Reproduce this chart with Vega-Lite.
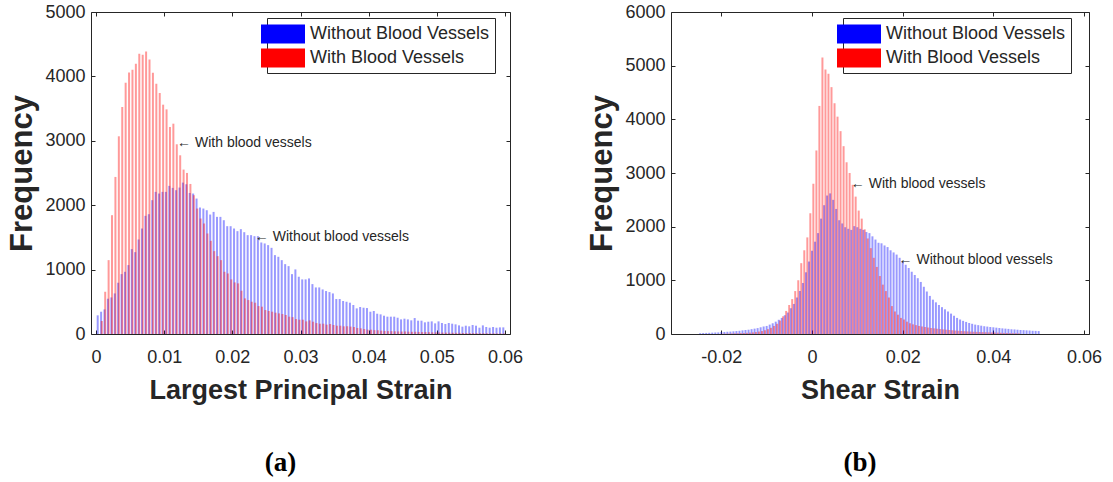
{
"$schema": "https://vega.github.io/schema/vega-lite/v6.json",
"background": "white",
"padding": {"left": 6, "top": 2, "right": 0, "bottom": 0},
"config": {
  "view": {"stroke": "#262626", "strokeWidth": 1},
  "font": "Liberation Sans",
  "axis": {"grid": false, "domain": false, "tickColor": "#262626", "tickSize": -4, "labelColor": "#262626", "labelFontSize": 18, "labelFont": "Liberation Sans", "titleFont": "Liberation Sans", "titleFontWeight": "bold", "titleFontSize": 27, "titleColor": "#262626"},
  "legend": {"labelLimit": 400}
},
"resolve": {"scale": {"color": "independent"}, "legend": {"color": "independent"}},
"spacing": 62,
"datasets": {
"a": [
{"series":"without","strain":0.00025,"count":290},{"series":"without","strain":0.00075,"count":346},{"series":"without","strain":0.00125,"count":382},{"series":"without","strain":0.00175,"count":548},{"series":"without","strain":0.00225,"count":568},{"series":"without","strain":0.00275,"count":630},{"series":"without","strain":0.00325,"count":796},{"series":"without","strain":0.00375,"count":930},{"series":"without","strain":0.00425,"count":966},{"series":"without","strain":0.00475,"count":1070},
{"series":"without","strain":0.00525,"count":1318},{"series":"without","strain":0.00575,"count":1271},{"series":"without","strain":0.00625,"count":1468},{"series":"without","strain":0.00675,"count":1638},{"series":"without","strain":0.00725,"count":1835},{"series":"without","strain":0.00775,"count":1860},{"series":"without","strain":0.00825,"count":2078},{"series":"without","strain":0.00875,"count":2207},{"series":"without","strain":0.00925,"count":2181},{"series":"without","strain":0.00975,"count":2207},
{"series":"without","strain":0.01025,"count":2207},{"series":"without","strain":0.01075,"count":2300},{"series":"without","strain":0.01125,"count":2269},{"series":"without","strain":0.01175,"count":2233},{"series":"without","strain":0.01225,"count":2274},{"series":"without","strain":0.01275,"count":2351},{"series":"without","strain":0.01325,"count":2325},{"series":"without","strain":0.01375,"count":2190},{"series":"without","strain":0.01425,"count":2181},{"series":"without","strain":0.01475,"count":2103},
{"series":"without","strain":0.01525,"count":1964},{"series":"without","strain":0.01575,"count":1948},{"series":"without","strain":0.01625,"count":1922},{"series":"without","strain":0.01675,"count":1855},{"series":"without","strain":0.01725,"count":1896},{"series":"without","strain":0.01775,"count":1819},{"series":"without","strain":0.01825,"count":1819},{"series":"without","strain":0.01875,"count":1767},{"series":"without","strain":0.01925,"count":1674},{"series":"without","strain":0.01975,"count":1674},
{"series":"without","strain":0.02025,"count":1638},{"series":"without","strain":0.02075,"count":1597},{"series":"without","strain":0.02125,"count":1628},{"series":"without","strain":0.02175,"count":1581},{"series":"without","strain":0.02225,"count":1535},{"series":"without","strain":0.02275,"count":1535},{"series":"without","strain":0.02325,"count":1519},{"series":"without","strain":0.02375,"count":1519},{"series":"without","strain":0.02425,"count":1421},{"series":"without","strain":0.02475,"count":1406},
{"series":"without","strain":0.02525,"count":1380},{"series":"without","strain":0.02575,"count":1338},{"series":"without","strain":0.02625,"count":1225},{"series":"without","strain":0.02675,"count":1199},{"series":"without","strain":0.02725,"count":1147},{"series":"without","strain":0.02775,"count":1085},{"series":"without","strain":0.02825,"count":1054},{"series":"without","strain":0.02875,"count":930},{"series":"without","strain":0.02925,"count":1003},{"series":"without","strain":0.02975,"count":889},
{"series":"without","strain":0.03025,"count":848},{"series":"without","strain":0.03075,"count":848},{"series":"without","strain":0.03125,"count":863},{"series":"without","strain":0.03175,"count":775},{"series":"without","strain":0.03225,"count":723},{"series":"without","strain":0.03275,"count":723},{"series":"without","strain":0.03325,"count":692},{"series":"without","strain":0.03375,"count":667},{"series":"without","strain":0.03425,"count":651},{"series":"without","strain":0.03475,"count":630},
{"series":"without","strain":0.03525,"count":543},{"series":"without","strain":0.03575,"count":543},{"series":"without","strain":0.03625,"count":512},{"series":"without","strain":0.03675,"count":502},{"series":"without","strain":0.03725,"count":486},{"series":"without","strain":0.03775,"count":450},{"series":"without","strain":0.03825,"count":398},{"series":"without","strain":0.03875,"count":419},{"series":"without","strain":0.03925,"count":408},{"series":"without","strain":0.03975,"count":403},
{"series":"without","strain":0.04025,"count":346},{"series":"without","strain":0.04075,"count":357},{"series":"without","strain":0.04125,"count":315},{"series":"without","strain":0.04175,"count":305},{"series":"without","strain":0.04225,"count":284},{"series":"without","strain":0.04275,"count":269},{"series":"without","strain":0.04325,"count":269},{"series":"without","strain":0.04375,"count":269},{"series":"without","strain":0.04425,"count":253},{"series":"without","strain":0.04475,"count":227},
{"series":"without","strain":0.04525,"count":238},{"series":"without","strain":0.04575,"count":227},{"series":"without","strain":0.04625,"count":212},{"series":"without","strain":0.04675,"count":248},{"series":"without","strain":0.04725,"count":207},{"series":"without","strain":0.04775,"count":207},{"series":"without","strain":0.04825,"count":181},{"series":"without","strain":0.04875,"count":191},{"series":"without","strain":0.04925,"count":196},{"series":"without","strain":0.04975,"count":165},
{"series":"without","strain":0.05025,"count":196},{"series":"without","strain":0.05075,"count":171},{"series":"without","strain":0.05125,"count":155},{"series":"without","strain":0.05175,"count":171},{"series":"without","strain":0.05225,"count":160},{"series":"without","strain":0.05275,"count":150},{"series":"without","strain":0.05325,"count":134},{"series":"without","strain":0.05375,"count":114},{"series":"without","strain":0.05425,"count":129},{"series":"without","strain":0.05475,"count":119},
{"series":"without","strain":0.05525,"count":140},{"series":"without","strain":0.05575,"count":129},{"series":"without","strain":0.05625,"count":98},{"series":"without","strain":0.05675,"count":134},{"series":"without","strain":0.05725,"count":109},{"series":"without","strain":0.05775,"count":98},{"series":"without","strain":0.05825,"count":109},{"series":"without","strain":0.05875,"count":98},{"series":"without","strain":0.05925,"count":103},{"series":"without","strain":0.05975,"count":103},
{"series":"with","strain":0.00085,"count":202},{"series":"with","strain":0.00135,"count":656},{"series":"with","strain":0.00185,"count":1147},{"series":"with","strain":0.00235,"count":1845},{"series":"with","strain":0.00285,"count":2439},{"series":"with","strain":0.00335,"count":3070},{"series":"with","strain":0.00385,"count":3525},{"series":"with","strain":0.00435,"count":3902},{"series":"with","strain":0.00485,"count":4062},{"series":"with","strain":0.00535,"count":4103},
{"series":"with","strain":0.00585,"count":4196},{"series":"with","strain":0.00635,"count":4351},{"series":"with","strain":0.00685,"count":4336},{"series":"with","strain":0.00735,"count":4388},{"series":"with","strain":0.00785,"count":4264},{"series":"with","strain":0.00835,"count":4057},{"series":"with","strain":0.00885,"count":3886},{"series":"with","strain":0.00935,"count":3742},{"series":"with","strain":0.00985,"count":3561},{"series":"with","strain":0.01035,"count":3488},
{"series":"with","strain":0.01085,"count":3214},{"series":"with","strain":0.01135,"count":3266},{"series":"with","strain":0.01185,"count":2946},{"series":"with","strain":0.01235,"count":2775},{"series":"with","strain":0.01285,"count":2553},{"series":"with","strain":0.01335,"count":2501},{"series":"with","strain":0.01385,"count":2330},{"series":"with","strain":0.01435,"count":2155},{"series":"with","strain":0.01485,"count":1948},{"series":"with","strain":0.01535,"count":1793},
{"series":"with","strain":0.01585,"count":1716},{"series":"with","strain":0.01635,"count":1561},{"series":"with","strain":0.01685,"count":1447},{"series":"with","strain":0.01735,"count":1287},{"series":"with","strain":0.01785,"count":1209},{"series":"with","strain":0.01835,"count":1147},{"series":"with","strain":0.01885,"count":966},{"series":"with","strain":0.01935,"count":940},{"series":"with","strain":0.01985,"count":848},{"series":"with","strain":0.02035,"count":801},
{"series":"with","strain":0.02085,"count":786},{"series":"with","strain":0.02135,"count":672},{"series":"with","strain":0.02185,"count":553},{"series":"with","strain":0.02235,"count":527},{"series":"with","strain":0.02285,"count":501},{"series":"with","strain":0.02335,"count":486},{"series":"with","strain":0.02385,"count":434},{"series":"with","strain":0.02435,"count":424},{"series":"with","strain":0.02485,"count":372},{"series":"with","strain":0.02535,"count":357},
{"series":"with","strain":0.02585,"count":346},{"series":"with","strain":0.02635,"count":331},{"series":"with","strain":0.02685,"count":320},{"series":"with","strain":0.02735,"count":310},{"series":"with","strain":0.02785,"count":295},{"series":"with","strain":0.02835,"count":269},{"series":"with","strain":0.02885,"count":262},{"series":"with","strain":0.02935,"count":232},{"series":"with","strain":0.02985,"count":222},{"series":"with","strain":0.03035,"count":222},
{"series":"with","strain":0.03085,"count":196},{"series":"with","strain":0.03135,"count":212},{"series":"with","strain":0.03185,"count":191},{"series":"with","strain":0.03235,"count":170},{"series":"with","strain":0.03285,"count":160},{"series":"with","strain":0.03335,"count":160},{"series":"with","strain":0.03385,"count":145},{"series":"with","strain":0.03435,"count":155},{"series":"with","strain":0.03485,"count":140},{"series":"with","strain":0.03535,"count":129},
{"series":"with","strain":0.03585,"count":129},{"series":"with","strain":0.03635,"count":119},{"series":"with","strain":0.03685,"count":119},{"series":"with","strain":0.03735,"count":115},{"series":"with","strain":0.03785,"count":109},{"series":"with","strain":0.03835,"count":93},{"series":"with","strain":0.03885,"count":88},{"series":"with","strain":0.03935,"count":77},{"series":"with","strain":0.03985,"count":67},{"series":"with","strain":0.04035,"count":67},
{"series":"with","strain":0.04085,"count":60},{"series":"with","strain":0.04135,"count":58},{"series":"with","strain":0.04185,"count":52},{"series":"with","strain":0.04235,"count":48},{"series":"with","strain":0.04285,"count":45},{"series":"with","strain":0.04335,"count":44},{"series":"with","strain":0.04385,"count":42},{"series":"with","strain":0.04435,"count":40},{"series":"with","strain":0.04485,"count":38},{"series":"with","strain":0.04535,"count":40},
{"series":"with","strain":0.04585,"count":36},{"series":"with","strain":0.04635,"count":34},{"series":"with","strain":0.04685,"count":35},{"series":"with","strain":0.04735,"count":32},{"series":"with","strain":0.04785,"count":30},{"series":"with","strain":0.04835,"count":30},{"series":"with","strain":0.04885,"count":28},{"series":"with","strain":0.04935,"count":26},{"series":"with","strain":0.04985,"count":25},{"series":"with","strain":0.05035,"count":24},
{"series":"with","strain":0.05085,"count":22},{"series":"with","strain":0.05135,"count":21},{"series":"with","strain":0.05185,"count":20},{"series":"with","strain":0.05235,"count":19},{"series":"with","strain":0.05285,"count":18},{"series":"with","strain":0.05335,"count":18},{"series":"with","strain":0.05385,"count":16},{"series":"with","strain":0.05435,"count":15},{"series":"with","strain":0.05485,"count":15},{"series":"with","strain":0.05535,"count":14},
{"series":"with","strain":0.05585,"count":13},{"series":"with","strain":0.05635,"count":12},{"series":"with","strain":0.05685,"count":12},{"series":"with","strain":0.05735,"count":11},{"series":"with","strain":0.05785,"count":10},{"series":"with","strain":0.05835,"count":10},{"series":"with","strain":0.05885,"count":9},{"series":"with","strain":0.05935,"count":9},{"series":"with","strain":0.05985,"count":8}
],
"b": [
{"series":"without","strain":-0.02467,"count":15},{"series":"without","strain":-0.024,"count":18},{"series":"without","strain":-0.02333,"count":20},{"series":"without","strain":-0.02267,"count":22},{"series":"without","strain":-0.022,"count":25},{"series":"without","strain":-0.02133,"count":28},{"series":"without","strain":-0.02067,"count":30},{"series":"without","strain":-0.02,"count":35},{"series":"without","strain":-0.01933,"count":38},{"series":"without","strain":-0.01867,"count":42},
{"series":"without","strain":-0.018,"count":45},{"series":"without","strain":-0.01733,"count":50},{"series":"without","strain":-0.01667,"count":55},{"series":"without","strain":-0.016,"count":60},{"series":"without","strain":-0.01533,"count":68},{"series":"without","strain":-0.01467,"count":75},{"series":"without","strain":-0.014,"count":80},{"series":"without","strain":-0.01333,"count":90},{"series":"without","strain":-0.01267,"count":100},{"series":"without","strain":-0.012,"count":110},
{"series":"without","strain":-0.01133,"count":125},{"series":"without","strain":-0.01067,"count":140},{"series":"without","strain":-0.01,"count":150},{"series":"without","strain":-0.00933,"count":175},{"series":"without","strain":-0.00867,"count":200},{"series":"without","strain":-0.008,"count":230},{"series":"without","strain":-0.00733,"count":265},{"series":"without","strain":-0.00667,"count":300},{"series":"without","strain":-0.006,"count":350},{"series":"without","strain":-0.00533,"count":400},
{"series":"without","strain":-0.00467,"count":480},{"series":"without","strain":-0.004,"count":560},{"series":"without","strain":-0.00333,"count":680},{"series":"without","strain":-0.00267,"count":800},{"series":"without","strain":-0.002,"count":950},{"series":"without","strain":-0.00133,"count":1150},{"series":"without","strain":-0.00067,"count":1350},{"series":"without","strain":0.0,"count":1550},{"series":"without","strain":0.00067,"count":1720},{"series":"without","strain":0.00133,"count":1880},
{"series":"without","strain":0.002,"count":2150},{"series":"without","strain":0.00267,"count":2400},{"series":"without","strain":0.00333,"count":2580},{"series":"without","strain":0.004,"count":2620},{"series":"without","strain":0.00467,"count":2500},{"series":"without","strain":0.00533,"count":2330},{"series":"without","strain":0.006,"count":2120},{"series":"without","strain":0.00667,"count":2060},{"series":"without","strain":0.00733,"count":1990},{"series":"without","strain":0.008,"count":1960},
{"series":"without","strain":0.00867,"count":1940},{"series":"without","strain":0.00933,"count":2010},{"series":"without","strain":0.01,"count":1990},{"series":"without","strain":0.01067,"count":1960},{"series":"without","strain":0.01133,"count":1940},{"series":"without","strain":0.012,"count":1900},{"series":"without","strain":0.01267,"count":1880},{"series":"without","strain":0.01333,"count":1820},{"series":"without","strain":0.014,"count":1760},{"series":"without","strain":0.01467,"count":1700},
{"series":"without","strain":0.01533,"count":1690},{"series":"without","strain":0.016,"count":1650},{"series":"without","strain":0.01667,"count":1620},{"series":"without","strain":0.01733,"count":1560},{"series":"without","strain":0.018,"count":1520},{"series":"without","strain":0.01867,"count":1480},{"series":"without","strain":0.01933,"count":1420},{"series":"without","strain":0.02,"count":1350},{"series":"without","strain":0.02067,"count":1290},{"series":"without","strain":0.02133,"count":1230},
{"series":"without","strain":0.022,"count":1160},{"series":"without","strain":0.02267,"count":1100},{"series":"without","strain":0.02333,"count":1040},{"series":"without","strain":0.024,"count":970},{"series":"without","strain":0.02467,"count":880},{"series":"without","strain":0.02533,"count":790},{"series":"without","strain":0.026,"count":710},{"series":"without","strain":0.02667,"count":640},{"series":"without","strain":0.02733,"count":590},{"series":"without","strain":0.028,"count":540},
{"series":"without","strain":0.02867,"count":500},{"series":"without","strain":0.02933,"count":460},{"series":"without","strain":0.03,"count":420},{"series":"without","strain":0.03067,"count":380},{"series":"without","strain":0.03133,"count":340},{"series":"without","strain":0.032,"count":300},{"series":"without","strain":0.03267,"count":270},{"series":"without","strain":0.03333,"count":245},{"series":"without","strain":0.034,"count":225},{"series":"without","strain":0.03467,"count":205},
{"series":"without","strain":0.03533,"count":190},{"series":"without","strain":0.036,"count":175},{"series":"without","strain":0.03667,"count":165},{"series":"without","strain":0.03733,"count":155},{"series":"without","strain":0.038,"count":145},{"series":"without","strain":0.03867,"count":138},{"series":"without","strain":0.03933,"count":130},{"series":"without","strain":0.04,"count":125},{"series":"without","strain":0.04067,"count":118},{"series":"without","strain":0.04133,"count":112},
{"series":"without","strain":0.042,"count":105},{"series":"without","strain":0.04267,"count":100},{"series":"without","strain":0.04333,"count":95},{"series":"without","strain":0.044,"count":88},{"series":"without","strain":0.04467,"count":85},{"series":"without","strain":0.04533,"count":80},{"series":"without","strain":0.046,"count":75},{"series":"without","strain":0.04667,"count":72},{"series":"without","strain":0.04733,"count":68},{"series":"without","strain":0.048,"count":65},
{"series":"without","strain":0.04867,"count":60},{"series":"without","strain":0.04933,"count":58},{"series":"without","strain":0.05,"count":55},
{"series":"with","strain":-0.0197,"count":5},{"series":"with","strain":-0.01903,"count":6},{"series":"with","strain":-0.01837,"count":8},{"series":"with","strain":-0.0177,"count":10},{"series":"with","strain":-0.01703,"count":12},{"series":"with","strain":-0.01637,"count":14},{"series":"with","strain":-0.0157,"count":16},{"series":"with","strain":-0.01503,"count":18},{"series":"with","strain":-0.01437,"count":22},{"series":"with","strain":-0.0137,"count":26},
{"series":"with","strain":-0.01303,"count":30},{"series":"with","strain":-0.01237,"count":36},{"series":"with","strain":-0.0117,"count":45},{"series":"with","strain":-0.01103,"count":55},{"series":"with","strain":-0.01037,"count":70},{"series":"with","strain":-0.0097,"count":90},{"series":"with","strain":-0.00903,"count":115},{"series":"with","strain":-0.00837,"count":150},{"series":"with","strain":-0.0077,"count":190},{"series":"with","strain":-0.00703,"count":250},
{"series":"with","strain":-0.00637,"count":330},{"series":"with","strain":-0.0057,"count":430},{"series":"with","strain":-0.00503,"count":540},{"series":"with","strain":-0.00437,"count":650},{"series":"with","strain":-0.0037,"count":800},{"series":"with","strain":-0.00303,"count":1000},{"series":"with","strain":-0.00237,"count":1320},{"series":"with","strain":-0.0017,"count":1560},{"series":"with","strain":-0.00103,"count":1800},{"series":"with","strain":-0.00037,"count":2250},
{"series":"with","strain":0.0003,"count":2800},{"series":"with","strain":0.00097,"count":3420},{"series":"with","strain":0.00163,"count":4250},{"series":"with","strain":0.0023,"count":5150},{"series":"with","strain":0.00297,"count":4930},{"series":"with","strain":0.00363,"count":4850},{"series":"with","strain":0.0043,"count":4600},{"series":"with","strain":0.00497,"count":4300},{"series":"with","strain":0.00563,"count":4050},{"series":"with","strain":0.0063,"count":3780},
{"series":"with","strain":0.00697,"count":3500},{"series":"with","strain":0.00763,"count":3200},{"series":"with","strain":0.0083,"count":3000},{"series":"with","strain":0.00897,"count":2780},{"series":"with","strain":0.00963,"count":2560},{"series":"with","strain":0.0103,"count":2300},{"series":"with","strain":0.01097,"count":2150},{"series":"with","strain":0.01163,"count":1950},{"series":"with","strain":0.0123,"count":1780},{"series":"with","strain":0.01297,"count":1600},
{"series":"with","strain":0.01363,"count":1420},{"series":"with","strain":0.0143,"count":1250},{"series":"with","strain":0.01497,"count":1080},{"series":"with","strain":0.01563,"count":920},{"series":"with","strain":0.0163,"count":800},{"series":"with","strain":0.01697,"count":680},{"series":"with","strain":0.01763,"count":520},{"series":"with","strain":0.0183,"count":420},{"series":"with","strain":0.01897,"count":360},{"series":"with","strain":0.01963,"count":300},
{"series":"with","strain":0.0203,"count":270},{"series":"with","strain":0.02097,"count":230},{"series":"with","strain":0.02163,"count":200},{"series":"with","strain":0.0223,"count":180},{"series":"with","strain":0.02297,"count":165},{"series":"with","strain":0.02363,"count":150},{"series":"with","strain":0.0243,"count":140},{"series":"with","strain":0.02497,"count":130},{"series":"with","strain":0.02563,"count":120},{"series":"with","strain":0.0263,"count":112},
{"series":"with","strain":0.02697,"count":105},{"series":"with","strain":0.02763,"count":98},{"series":"with","strain":0.0283,"count":92},{"series":"with","strain":0.02897,"count":86},{"series":"with","strain":0.02963,"count":80},{"series":"with","strain":0.0303,"count":75},{"series":"with","strain":0.03097,"count":70},{"series":"with","strain":0.03163,"count":65},{"series":"with","strain":0.0323,"count":60},{"series":"with","strain":0.03297,"count":56},
{"series":"with","strain":0.03363,"count":52},{"series":"with","strain":0.0343,"count":48},{"series":"with","strain":0.03497,"count":45},{"series":"with","strain":0.03563,"count":42},{"series":"with","strain":0.0363,"count":40},{"series":"with","strain":0.03697,"count":37},{"series":"with","strain":0.03763,"count":35},{"series":"with","strain":0.0383,"count":33},{"series":"with","strain":0.03897,"count":31},{"series":"with","strain":0.03963,"count":29},
{"series":"with","strain":0.0403,"count":27},{"series":"with","strain":0.04097,"count":25},{"series":"with","strain":0.04163,"count":23},{"series":"with","strain":0.0423,"count":21},{"series":"with","strain":0.04297,"count":19},{"series":"with","strain":0.04363,"count":17},{"series":"with","strain":0.0443,"count":15},{"series":"with","strain":0.04497,"count":14},{"series":"with","strain":0.04563,"count":12}
],
"notesA": [
{"label":"← With blood vessels","strain":0.0119,"count":2966},
{"label":"← Without blood vessels","strain":0.0233,"count":1499}
],
"notesB": [
{"label":"← With blood vessels","strain":0.00857,"count":2787},
{"label":"← Without blood vessels","strain":0.0191,"count":1378}
]
},
"hconcat": [
{
 "width": 419, "height": 322,
 "title": {"text": "(a)", "orient": "bottom", "anchor": "middle", "font": "Liberation Serif", "fontSize": 27, "fontWeight": "bold", "color": "#000000", "offset": 47, "dx": -20},
 "resolve": {"axis": {"x": "independent", "y": "independent"}},
 "layer": [
  {
   "data": {"name": "a"},
   "mark": {"type": "bar", "size": 2, "opacity": 0.4, "clip": true},
   "encoding": {
    "x": {"field": "strain", "type": "quantitative", "scale": {"domain": [0, 0.06], "nice": false, "zero": false}, "axis": {"title": "Largest Principal Strain", "values": [0, 0.01, 0.02, 0.03, 0.04, 0.05, 0.06], "format": "~g", "labelPadding": 18, "titlePadding": 11}},
    "y": {"field": "count", "type": "quantitative", "scale": {"domain": [0, 5000], "nice": false}, "axis": {"title": "Frequency", "titleFontSize": 31, "values": [0, 1000, 2000, 3000, 4000, 5000], "format": "d", "labelPadding": 10, "titlePadding": 6}},
    "color": {"field": "series", "type": "nominal", "scale": {"domain": ["without", "with"], "range": ["#0000ff", "#ff0000"]},
      "legend": {"orient": "none", "legendX": 176, "legendY": 6, "title": null, "labelExpr": "datum.label == 'without' ? 'Without Blood Vessels' : 'With Blood Vessels'", "symbolType": "M-2,-0.86H2V0.86H-2Z", "symbolSize": 484, "symbolOpacity": 1, "symbolStrokeWidth": 0, "labelFontSize": 18, "labelFont": "Liberation Sans", "labelColor": "#262626", "strokeColor": "#262626", "fillColor": "#ffffff", "padding": 5, "rowPadding": 3, "labelOffset": 16}}
   }
  },
  {
   "data": {"name": "notesA"},
   "mark": {"type": "text", "align": "left", "baseline": "middle", "fontSize": 14, "font": "Liberation Sans", "color": "#262626"},
   "encoding": {
    "x": {"field": "strain", "type": "quantitative", "axis": null},
    "y": {"field": "count", "type": "quantitative", "axis": null},
    "text": {"field": "label"}
   }
  },
  {
   "data": {"values": [{"strain": 0, "count": 0}]},
   "mark": {"type": "point", "opacity": 0},
   "encoding": {
    "x": {"field": "strain", "type": "quantitative", "axis": {"orient": "top", "labels": false, "title": null, "values": [0, 0.01, 0.02, 0.03, 0.04, 0.05, 0.06]}},
    "y": {"field": "count", "type": "quantitative", "axis": {"orient": "right", "labels": false, "title": null, "values": [0, 1000, 2000, 3000, 4000, 5000]}}
   }
  }
 ]
},
{
 "width": 418, "height": 322,
 "title": {"text": "(b)", "orient": "bottom", "anchor": "middle", "font": "Liberation Serif", "fontSize": 27, "fontWeight": "bold", "color": "#000000", "offset": 47, "dx": -20},
 "resolve": {"axis": {"x": "independent", "y": "independent"}},
 "layer": [
  {
   "data": {"name": "b"},
   "mark": {"type": "bar", "size": 2, "opacity": 0.4, "clip": true},
   "encoding": {
    "x": {"field": "strain", "type": "quantitative", "scale": {"domain": [-0.03, 0.06], "nice": false, "zero": false}, "axis": {"title": "Shear Strain", "values": [-0.02, 0, 0.02, 0.04, 0.06], "labelExpr": "datum.value < 0 ? '-' + format(-datum.value, '~g') : format(datum.value, '~g')", "labelPadding": 18, "titlePadding": 11}},
    "y": {"field": "count", "type": "quantitative", "scale": {"domain": [0, 6000], "nice": false}, "axis": {"title": "Frequency", "titleFontSize": 31, "values": [0, 1000, 2000, 3000, 4000, 5000, 6000], "format": "d", "labelPadding": 10, "titlePadding": 6}},
    "color": {"field": "series", "type": "nominal", "scale": {"domain": ["without", "with"], "range": ["#0000ff", "#ff0000"]},
      "legend": {"orient": "none", "legendX": 172, "legendY": 6, "title": null, "labelExpr": "datum.label == 'without' ? 'Without Blood Vessels' : 'With Blood Vessels'", "symbolType": "M-2,-0.86H2V0.86H-2Z", "symbolSize": 484, "symbolOpacity": 1, "symbolStrokeWidth": 0, "labelFontSize": 18, "labelFont": "Liberation Sans", "labelColor": "#262626", "strokeColor": "#262626", "fillColor": "#ffffff", "padding": 5, "rowPadding": 3, "labelOffset": 16}}
   }
  },
  {
   "data": {"name": "notesB"},
   "mark": {"type": "text", "align": "left", "baseline": "middle", "fontSize": 14, "font": "Liberation Sans", "color": "#262626"},
   "encoding": {
    "x": {"field": "strain", "type": "quantitative", "axis": null},
    "y": {"field": "count", "type": "quantitative", "axis": null},
    "text": {"field": "label"}
   }
  },
  {
   "data": {"values": [{"strain": 0, "count": 0}]},
   "mark": {"type": "point", "opacity": 0},
   "encoding": {
    "x": {"field": "strain", "type": "quantitative", "axis": {"orient": "top", "labels": false, "title": null, "values": [-0.02, 0, 0.02, 0.04, 0.06]}},
    "y": {"field": "count", "type": "quantitative", "axis": {"orient": "right", "labels": false, "title": null, "values": [0, 1000, 2000, 3000, 4000, 5000, 6000]}}
   }
  }
 ]
}
]
}
